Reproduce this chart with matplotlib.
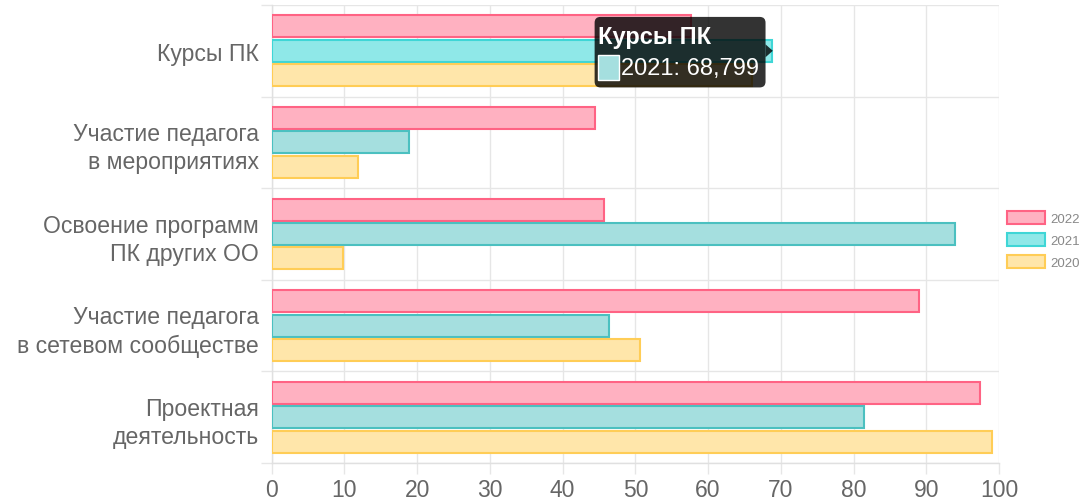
import matplotlib
matplotlib.use("Agg")
import matplotlib.pyplot as plt
import numpy as np
from matplotlib.patches import FancyBboxPatch, Rectangle

categories = ["Курсы ПК", "Участие педагога\nв мероприятиях", "Освоение программ\nПК других ОО",
              "Участие педагога\nв сетевом сообществе", "Проектная\nдеятельность"]
series_names = ["2022", "2021", "2020"]
v2022 = [57.7, 44.4, 45.7, 89.0, 97.4]
v2021 = [68.799, 18.9, 93.9, 46.4, 81.5]
v2020 = [66.0, 11.8, 9.8, 50.7, 99.0]
xticks = list(range(0, 101, 10))

faces = ["#ffb1c1", "#a5dfdf", "#ffe6aa"]
edges = ["#ff6384", "#4bc0c0", "#ffcd56"]
hover_face = "#8fe8e8"
hover_edge = "#3fd6d6"

plt.rcParams['font.family'] = ['Liberation Sans', 'DejaVu Sans']

fig = plt.figure(figsize=(10.89, 5.02), dpi=100)
ax = fig.add_axes([271.7/1089, 1-464/502, 727.3/1089, 458/502])

y = np.arange(len(categories))
h = 0.8 / 3 * 0.9
offsets = [-0.8/3, 0.0, 0.8/3]
values = [v2022, v2021, v2020]
for i, (vals, name) in enumerate(zip(values, series_names)):
    fc = [faces[i]] * len(vals)
    ec = [edges[i]] * len(vals)
    if i == 1:
        fc[0] = hover_face
        ec[0] = hover_edge
    ax.barh(y + offsets[i], vals, height=h, color=fc, edgecolor=ec, linewidth=1.5,
            label=name, zorder=3)

ax.set_xlim(0, 100)
ax.set_ylim(len(categories) - 0.5, -0.5)
ax.set_xticks(xticks)
ax.set_xticklabels([str(t) for t in xticks], fontsize=16.5, color="#666666")
ax.set_yticks(y)
ax.set_yticklabels(categories, fontsize=16.6, color="#666666", linespacing=1.3)
ax.set_yticks(np.arange(-0.5, len(categories)), minor=True)
ax.tick_params(axis='y', which='major', length=0, pad=9)
ax.tick_params(axis='y', which='minor', length=8, color="#e6e6e6", width=1)
ax.tick_params(axis='x', which='major', length=8, color="#e6e6e6", width=1, pad=3)
ax.grid(axis='x', which='major', color="#e6e6e6", linewidth=1, zorder=0)
ax.grid(axis='y', which='minor', color="#e6e6e6", linewidth=1, zorder=0)
for s in ["top", "right"]:
    ax.spines[s].set_visible(False)
for s in ["left", "bottom"]:
    ax.spines[s].set_color("#e0e0e0")
    ax.spines[s].set_linewidth(1)

# tooltip
ax.add_patch(FancyBboxPatch((44.4, -0.37), 23.5, 0.77,
                            boxstyle="round,pad=0,rounding_size=0.8",
                            mutation_aspect=7.27/91.6, facecolor="#000000", alpha=0.8,
                            edgecolor="none", zorder=5))
ax.add_patch(plt.Polygon([[67.9, -0.07], [68.9, 0.0], [67.9, 0.07]], closed=True,
                         facecolor="#000000", alpha=0.8, edgecolor="none", zorder=5))
ax.text(44.8, -0.16, "Курсы ПК", color="white", fontsize=17, fontweight="bold",
        va="center", ha="left", zorder=6)
ax.add_patch(Rectangle((44.8, 0.05), 3.0, 0.27, facecolor="#a5dfdf", edgecolor="white",
                       linewidth=1, zorder=6))
ax.text(48.0, 0.19, f"2021: {v2021[0]:.3f}".replace(".", ","), color="white", fontsize=17,
        va="center", ha="left", zorder=6)

leg = fig.legend(loc="center left", bbox_to_anchor=(1007/1089, 1-241/502), frameon=False,
                 fontsize=9.5, handlelength=2.9, handleheight=1.15, labelspacing=0.6,
                 handletextpad=0.4, borderpad=0, borderaxespad=0)
for t in leg.get_texts():
    t.set_color("#888888")

fig.savefig("out.png", dpi=100)
